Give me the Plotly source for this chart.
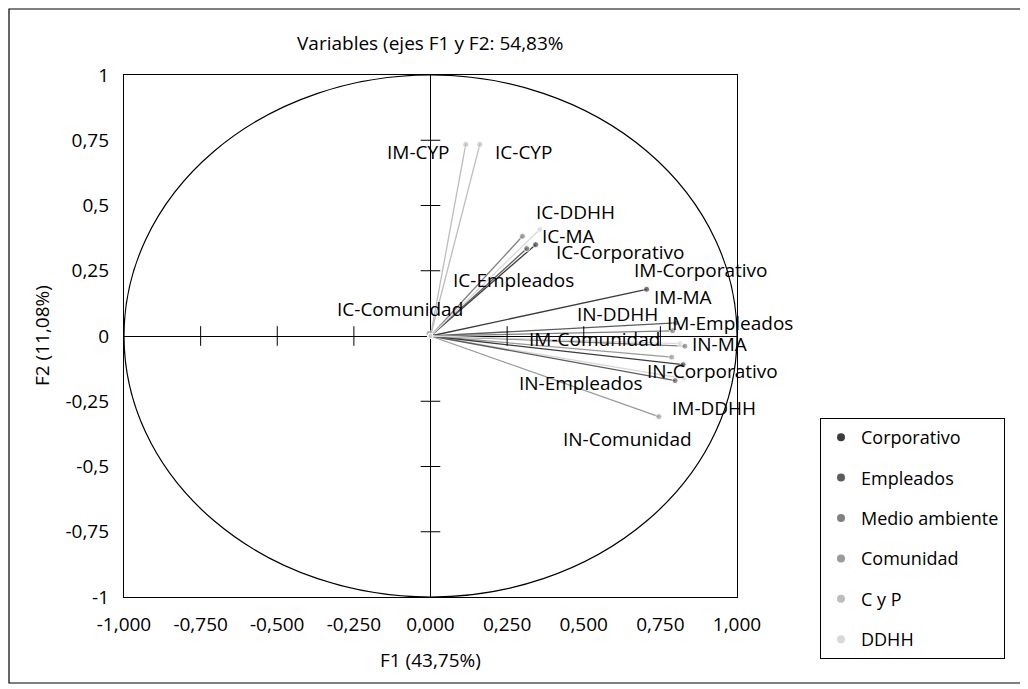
import plotly.graph_objects as go

# ---------------- data ----------------
categories = ["Corporativo", "Empleados", "Medio ambiente", "Comunidad", "C y P", "DDHH"]
category_colors = ["#3c3c3c", "#5c5c5c", "#808080", "#9a9a9a", "#bdbdbd", "#d9d9d9"]

variables = [
    "IC-Corporativo", "IC-Empleados", "IC-MA", "IC-Comunidad", "IC-CYP", "IC-DDHH",
    "IM-Corporativo", "IM-Empleados", "IM-MA", "IM-Comunidad", "IM-CYP", "IM-DDHH",
    "IN-Corporativo", "IN-Empleados", "IN-MA", "IN-Comunidad", "IN-DDHH",
]
variable_category = [
    "Corporativo", "Empleados", "Medio ambiente", "Comunidad", "C y P", "DDHH",
    "Corporativo", "Empleados", "Medio ambiente", "Comunidad", "C y P", "DDHH",
    "Corporativo", "Empleados", "Medio ambiente", "Comunidad", "DDHH",
]
f1 = [0.343, 0.314, 0.300, -0.005, 0.161, 0.357,
      0.705, 0.800, 0.790, 0.787, 0.115, 0.827,
      0.824, 0.798, 0.830, 0.745, 0.814]
f2 = [0.350, 0.335, 0.382, 0.010, 0.734, 0.409,
      0.179, 0.050, 0.020, -0.081, 0.734, -0.163,
      -0.110, -0.171, -0.039, -0.309, -0.029]

x_ticks = [-1, -0.75, -0.5, -0.25, 0, 0.25, 0.5, 0.75, 1]
x_tick_text = ["-1,000", "-0,750", "-0,500", "-0,250", "0,000", "0,250", "0,500", "0,750", "1,000"]
y_ticks = [-1, -0.75, -0.5, -0.25, 0, 0.25, 0.5, 0.75, 1]
y_tick_text = ["-1", "-0,75", "-0,5", "-0,25", "0", "0,25", "0,5", "0,75", "1"]

title_text = "Variables (ejes F1 y F2: 54,83%"
x_title = "F1 (43,75%)"
y_title = "F2 (11,08%)"

# ---------------- style ----------------
FONT = "Open Sans"
FS = 19
OFF = 8  # page body margin
W, H = 1028 - OFF, 689 - OFF
PL, PR, PT, PB = 124 - OFF, 737 - OFF, 75 - OFF, 597 - OFF   # plot area in figure pixels

# label offsets in pixels (dx right, dy down) relative to vector end
label_offsets = {
    "IM-CYP": (-47, 8), "IC-CYP": (44, 8), "IC-DDHH": (36, -17), "IC-MA": (46, 0),
    "IC-Corporativo": (84, 7), "IC-Empleados": (-13, 31), "IC-Comunidad": (-29, -24),
    "IM-Corporativo": (54, -19), "IM-MA": (10, -34), "IN-DDHH": (-62, -30),
    "IM-Empleados": (54, 0), "IM-Comunidad": (-77, -18), "IN-MA": (35, -2),
    "IN-Corporativo": (29, 6), "IN-Empleados": (-94, 2), "IM-DDHH": (30, 29),
    "IN-Comunidad": (-31, 22),
}

color_of = dict(zip(categories, category_colors))

fig = go.Figure()

# vectors
for name, cat, x, y in zip(variables, variable_category, f1, f2):
    c = color_of[cat]
    fig.add_trace(go.Scatter(
        x=[0, x], y=[0, y], mode="lines+markers",
        line=dict(color=c, width=1.3),
        marker=dict(color=c, size=[5, 6]),
        showlegend=False, hoverinfo="text", text=[name, name],
    ))

# tick marks on central axes
inner_x = [t for t in x_ticks if t not in (0, -1, 1)]
inner_y = [t for t in y_ticks if t not in (0, -1, 1)]
fig.add_trace(go.Scatter(
    x=inner_x, y=[0] * len(inner_x), mode="markers",
    marker=dict(symbol="line-ns", size=14, line=dict(color="black", width=1)),
    showlegend=False, hoverinfo="skip"))
fig.add_trace(go.Scatter(
    x=[0] * len(inner_y), y=inner_y, mode="markers",
    marker=dict(symbol="line-ew", size=14, line=dict(color="black", width=1)),
    showlegend=False, hoverinfo="skip"))

# legend entries
for cat, c in zip(categories, category_colors):
    fig.add_trace(go.Scatter(
        x=[None], y=[None], mode="markers", name=cat, legendgroup=cat,
        marker=dict(color=c, size=8), showlegend=True))

# labels
pw, ph = PR - PL, PB - PT
for name, x, y in zip(variables, f1, f2):
    dx, dy = label_offsets.get(name, (30, 0))
    fig.add_annotation(x=x, y=y, text=name, showarrow=False,
                       xshift=dx, yshift=-dy,
                       font=dict(family=FONT, size=FS, color="black"))

# circle of correlations
fig.add_shape(type="circle", xref="x", yref="y", x0=-1, y0=-1, x1=1, y1=1,
              line=dict(color="black", width=1.2), layer="above")


def fig_x(p):
    """figure pixel -> paper x"""
    return (p - PL) / pw


def fig_y(p):
    """figure pixel -> paper y"""
    return (PB - p) / ph


def page_x(p):
    return fig_x(p - OFF)


def page_y(p):
    return fig_y(p - OFF)


# outer frame (clamped to the figure area)
fig.add_shape(type="rect", xref="paper", yref="paper",
              x0=fig_x(1), x1=fig_x(1022 - OFF),
              y0=fig_y(683 - OFF), y1=fig_y(1),
              line=dict(color="black", width=1.2))

fig.add_annotation(xref="paper", yref="paper", x=page_x(430), y=page_y(43),
                   text=title_text, showarrow=False, yanchor="middle",
                   font=dict(family=FONT, size=FS, color="black"))
fig.add_annotation(xref="paper", yref="paper", x=page_x(430), y=page_y(660),
                   text=x_title, showarrow=False, yanchor="middle",
                   font=dict(family=FONT, size=FS, color="black"))
fig.add_annotation(xref="paper", yref="paper", x=page_x(42), y=page_y(336),
                   text=y_title, showarrow=False, textangle=-90,
                   xanchor="center", yanchor="middle",
                   font=dict(family=FONT, size=FS, color="black"))

axis_common = dict(range=[-1, 1], showgrid=False, zeroline=True, zerolinecolor="black",
                   zerolinewidth=1, showline=True, mirror=True, linecolor="black",
                   linewidth=1.2, ticks="", tickfont=dict(family=FONT, size=FS, color="black"),
                   fixedrange=True)

fig.update_layout(
    width=W, height=H,
    margin=dict(l=PL, r=W - PR, t=PT, b=H - PB),
    paper_bgcolor="white", plot_bgcolor="white",
    font=dict(family=FONT, size=FS, color="black"),
    xaxis=dict(**axis_common, tickvals=x_ticks, ticktext=x_tick_text, ticklabelstandoff=10),
    yaxis=dict(**axis_common, tickvals=y_ticks, ticktext=y_tick_text, ticklabelstandoff=10),
    legend=dict(x=page_x(820), y=page_y(418), xanchor="left", yanchor="top",
                bordercolor="black", borderwidth=1, bgcolor="white",
                font=dict(family=FONT, size=18, color="black"),
                tracegroupgap=14, itemwidth=30),
    showlegend=True,
)

fig.write_html("out.html")
